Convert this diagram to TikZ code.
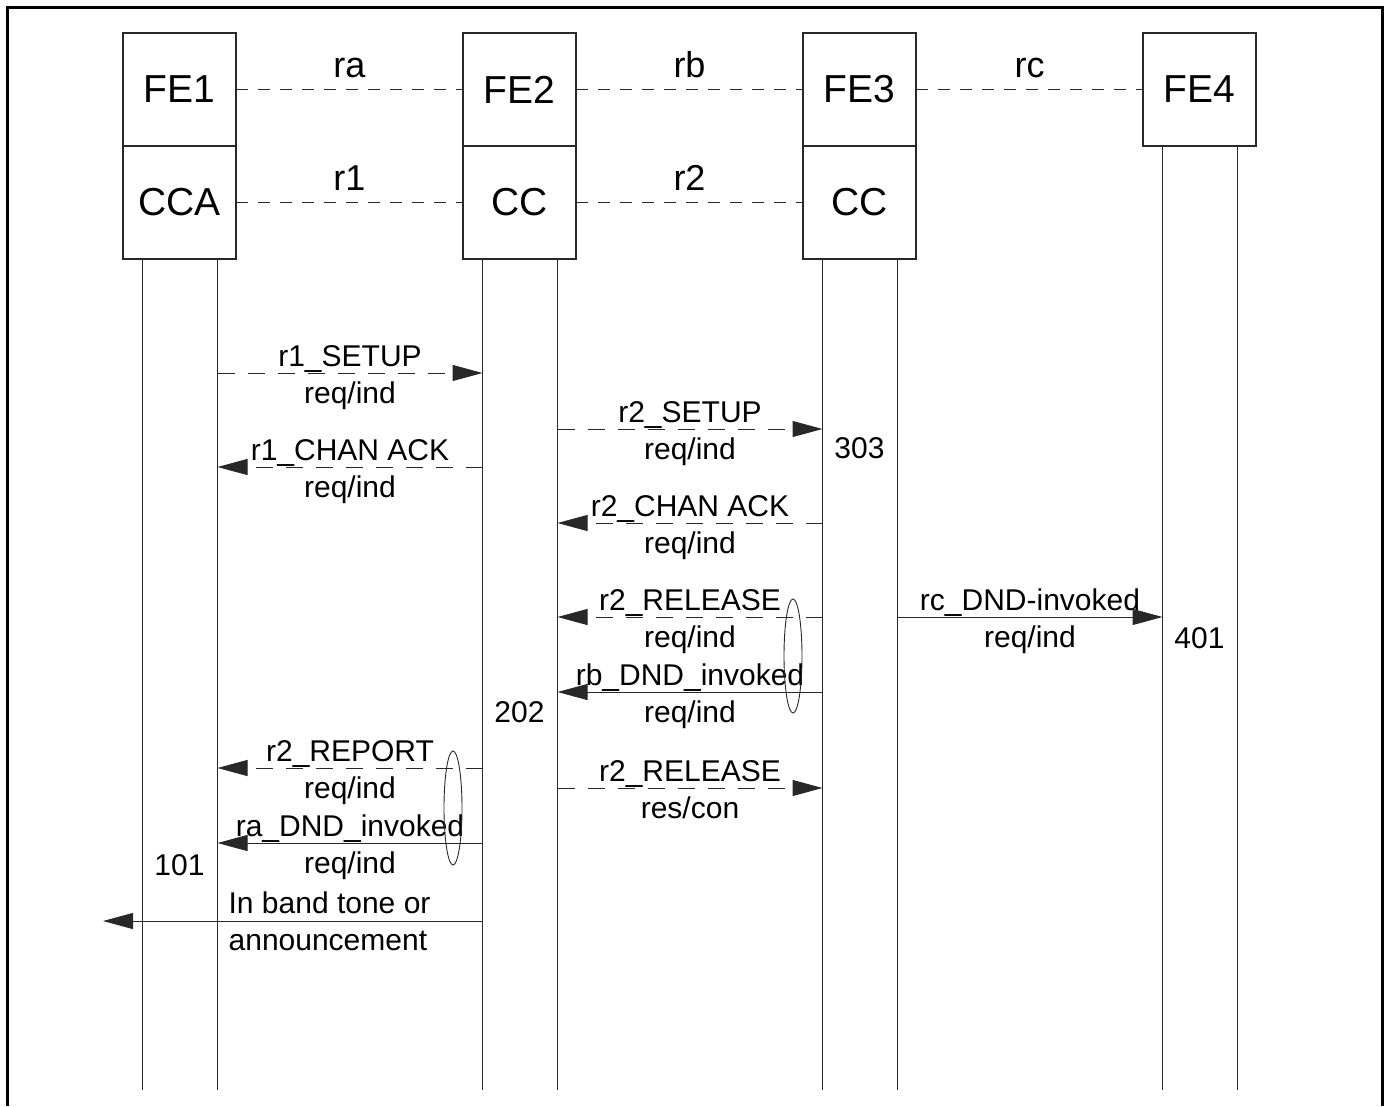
\documentclass[tikz,border=0pt]{standalone}
\usepackage{fontspec}
\setmainfont{Liberation Sans}
\usetikzlibrary{positioning,shapes.geometric,arrows.meta}
\definecolor{linegray}{RGB}{40,40,40}
\tikzset{
  febox/.style={draw=linegray,line width=1.2pt,minimum width=113pt,minimum height=113pt,
    inner sep=0pt,outer sep=0pt,font=\fontsize{39}{45}\selectfont},
  refline/.style={draw=linegray,line width=0.9pt,dash pattern=on 12pt off 10pt},
  refname/.style={midway,anchor=base,yshift=12pt,font=\fontsize{36}{42}\selectfont},
  life/.style={draw=linegray,line width=1pt},
  msg/.style={draw=linegray,line width=1pt,-{Triangle[length=30pt,width=16pt]}},
  msgdash/.style={msg,dash pattern=on 17pt off 13pt},
  msgname/.style={midway,anchor=base,yshift=7pt,font=\fontsize{30}{36}\selectfont},
  msgprim/.style={midway,anchor=base,yshift=-30pt,font=\fontsize{30}{36}\selectfont},
  fenum/.style={anchor=base,font=\fontsize{30}{36}\selectfont},
  grp/.style={draw=linegray,line width=0.9pt,ellipse,minimum width=18pt,minimum height=114pt,inner sep=0pt}
}
\begin{document}
\begin{tikzpicture}[x=1pt,y=-1pt]
  \useasboundingbox (0,0) rectangle (1384,1106);
  \draw[line width=3pt] (7,1106) -- (7,7) -- (1382,7) -- (1382,1106);

  % functional entities
  \node[febox] (fe1) at (179.5,89.5) {FE1};
  \node[febox,right=227pt of fe1] (fe2) {FE2};
  \node[febox,right=227pt of fe2] (fe3) {FE3};
  \node[febox,right=227pt of fe3] (fe4) {FE4};
  \node[febox,below=0pt of fe1] (cca) {CCA};
  \node[febox,below=0pt of fe2] (cc2) {CC};
  \node[febox,below=0pt of fe3] (cc3) {CC};

  \draw[refline] (fe1) -- (fe2) node[refname] {ra};
  \draw[refline] (fe2) -- (fe3) node[refname] {rb};
  \draw[refline] (fe3) -- (fe4) node[refname] {rc};
  \draw[refline] (cca) -- (cc2) node[refname] {r1};
  \draw[refline] (cc2) -- (cc3) node[refname] {r2};

  % lifelines
  \foreach \n/\b in {1/cca,2/cc2,3/cc3,4/fe4} {
    \coordinate (a\n) at ([xshift=-37pt]\b.south);
    \coordinate (b\n) at ([xshift=38pt]\b.south);
    \draw[life] (a\n) -- (a\n |- 0,1090);
    \draw[life] (b\n) -- (b\n |- 0,1090);
  }

  % messages
  \draw[msgdash] (b1 |- 0,373) -- (a2 |- 0,373)
    node[msgname] {r1\_SETUP} node[msgprim] {req/ind};
  \draw[msgdash] (b2 |- 0,429) -- (a3 |- 0,429)
    node[msgname] {r2\_SETUP} node[msgprim] {req/ind};
  \draw[msgdash] (a2 |- 0,467) -- (b1 |- 0,467)
    node[msgname] {r1\_CHAN ACK} node[msgprim] {req/ind};
  \draw[msgdash] (a3 |- 0,523) -- (b2 |- 0,523)
    node[msgname] {r2\_CHAN ACK} node[msgprim] {req/ind};
  \draw[msgdash] (a3 |- 0,617) -- (b2 |- 0,617)
    node[msgname] {r2\_RELEASE} node[msgprim] {req/ind};
  \draw[msg] (b3 |- 0,617) -- (a4 |- 0,617)
    node[msgname] {rc\_DND-invoked} node[msgprim] {req/ind};
  \draw[msg] (a3 |- 0,692) -- (b2 |- 0,692)
    node[msgname] {rb\_DND\_invoked} node[msgprim] {req/ind};
  \draw[msgdash] (a2 |- 0,768) -- (b1 |- 0,768)
    node[msgname] {r2\_REPORT} node[msgprim] {req/ind};
  \draw[msgdash] (b2 |- 0,788) -- (a3 |- 0,788)
    node[msgname] {r2\_RELEASE} node[msgprim] {res/con};
  \draw[msg] (a2 |- 0,843) -- (b1 |- 0,843)
    node[msgname] {ra\_DND\_invoked} node[msgprim] {req/ind};
  \coordinate (user) at (103,921);
  \draw[msg] (a2 |- 0,921) -- (user)
    node[pos=0.679,anchor=base west,yshift=8pt,font=\fontsize{30}{36}\selectfont] {In band tone or}
    node[pos=0.679,anchor=base west,yshift=-29pt,font=\fontsize{30}{36}\selectfont] {announcement};

  % grouped flows
  \node[grp] (g1) at (793,656) {};
  \node[grp] (g2) at (453,808) {};

  % action numbers
  \node[fenum] (n303) at (cc3 |- 0,458) {303};
  \node[fenum] (n401) at (fe4 |- 0,648) {401};
  \node[fenum] (n202) at (cc2 |- 0,722) {202};
  \node[fenum] (n101) at (cca |- 0,875) {101};
\end{tikzpicture}
\end{document}
